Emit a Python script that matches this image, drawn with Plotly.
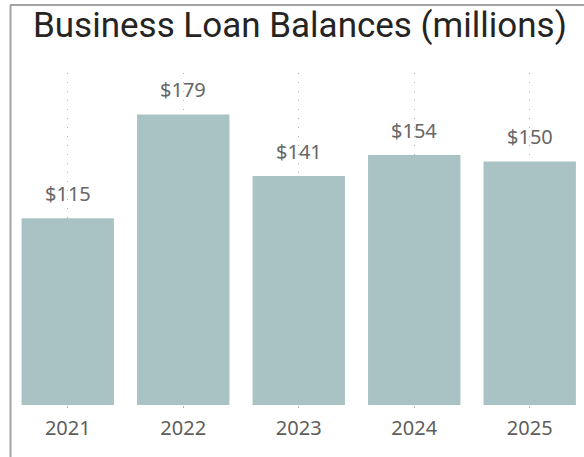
import plotly.graph_objects as go

# Business loan balances by year, in millions of dollars
years = ["2021", "2022", "2023", "2024", "2025"]
balances = [115, 179, 141, 154, 150]
value_labels = ["$115", "$179", "$141", "$154", "$150"]

bar_color = "#A9C3C4"
label_color = "#666666"
border_color = "#A3A3A3"

fig = go.Figure(
    go.Bar(
        x=years,
        y=balances,
        marker=dict(color=bar_color, line=dict(width=0)),
        width=0.8,
        hoverinfo="skip",
    )
)

# Value labels sitting above each bar (category axis positions are indices)
for idx, (val, txt) in enumerate(zip(balances, value_labels)):
    fig.add_annotation(
        x=idx, y=val, text=txt, showarrow=False,
        xref="x", yref="y", yanchor="bottom", yshift=9,
        font=dict(family="Noto Sans", size=20, color=label_color),
    )

# Chart title
fig.add_annotation(
    x=0.505, y=1.142, xref="paper", yref="paper", xanchor="center", yanchor="middle",
    text="Business Loan Balances (millions)", showarrow=False,
    font=dict(family="Roboto", size=35, color="#252423"),
)

# Frame lines along the top and left edge of the visual
fig.add_shape(type="line", xref="paper", yref="paper",
              x0=0.0009, x1=0.0009, y0=1.205, y1=-0.16,
              line=dict(color=border_color, width=2))
fig.add_shape(type="line", xref="paper", yref="paper",
              x0=0.0, x1=1.0, y0=1.205, y1=1.205,
              line=dict(color=border_color, width=2))

fig.update_layout(
    width=584,
    height=457,
    margin=dict(l=10, r=0, t=73, b=52),
    paper_bgcolor="white",
    plot_bgcolor="white",
    showlegend=False,
    bargap=0.2,
    xaxis=dict(
        type="category",
        range=[-0.5, 4.47],
        showgrid=True,
        gridcolor="#B4B4B4",
        griddash="1px,8px",
        gridwidth=1,
        ticks="outside",
        ticklen=2,
        tickcolor="#B4B4B4",
        ticklabelstandoff=3,
        showline=False,
        zeroline=False,
        tickfont=dict(family="Noto Sans", size=20, color="#605E5C"),
        fixedrange=True,
    ),
    yaxis=dict(
        range=[0, 204.5],
        visible=False,
        showgrid=False,
        zeroline=False,
        fixedrange=True,
    ),
)

fig.write_html("out.html")
